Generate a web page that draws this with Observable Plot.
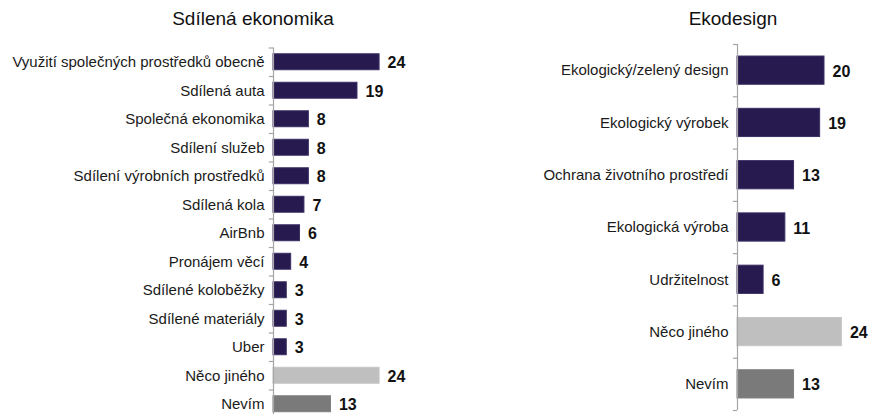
<!DOCTYPE html>
<html>
<head>
<meta charset="utf-8">
<script src="https://cdn.jsdelivr.net/npm/d3@7"></script>
<script src="https://cdn.jsdelivr.net/npm/@observablehq/plot@0.6"></script>
<style>
  html, body { margin: 0; padding: 0; background: #fff; overflow: hidden; }
  #wrap { position: relative; width: 870px; height: 414px; font-family: "Liberation Sans", Arial, sans-serif; }
  .title { position: absolute; font-size: 19px; color: #111; top: 8px; white-space: nowrap; transform: translateX(-50%); }
  .panel { position: absolute; top: 0; }
  .panel svg { display: block; }
</style>
</head>
<body>
<div id="wrap">
  <div class="title" style="left:253px">Sdílená ekonomika</div>
  <div class="title" style="left:733px">Ekodesign</div>
  <div class="panel" id="left" style="left:0px"></div>
  <div class="panel" id="right" style="left:435px"></div>
</div>
<script>
const sharingCategories = [
  "Využití společných prostředků obecně",
  "Sdílená auta",
  "Společná ekonomika",
  "Sdílení služeb",
  "Sdílení výrobních prostředků",
  "Sdílená kola",
  "AirBnb",
  "Pronájem věcí",
  "Sdílené koloběžky",
  "Sdílené materiály",
  "Uber",
  "Něco jiného",
  "Nevím"
];
const sharingValues = [24, 19, 8, 8, 8, 7, 6, 4, 3, 3, 3, 24, 13];
const sharingGroups = ["main","main","main","main","main","main","main","main","main","main","main","other","dontknow"];

const ecoCategories = [
  "Ekologický/zelený design",
  "Ekologický výrobek",
  "Ochrana životního prostředí",
  "Ekologická výroba",
  "Udržitelnost",
  "Něco jiného",
  "Nevím"
];
const ecoValues = [20, 19, 13, 11, 6, 24, 13];
const ecoGroups = ["main","main","main","main","main","other","dontknow"];

const groupColors = {main: "#261a4e", other: "#bfbfbf", dontknow: "#7a7a7a"};
const groupStroke = {main: "#3b2f66", other: "#c6c6c6", dontknow: "#7f7f7f"};

function panel({cats, vals, groups, width, height, marginLeft, marginTop, xMax, padding, labelSize}) {
  const data = cats.map((c, i) => ({cat: c, value: vals[i], group: groups[i]}));
  const step = (height - marginTop) / cats.length;
  return Plot.plot({
    width, height,
    marginLeft, marginTop, marginBottom: 0, marginRight: width - marginLeft - xMax.px,
    style: {fontFamily: "Liberation Sans, Arial, sans-serif", overflow: "visible", background: "transparent"},
    x: {domain: [0, xMax.value], axis: null},
    y: {domain: cats, paddingInner: padding, paddingOuter: padding / 2, round: false, axis: null},
    marks: [
      Plot.barX(data, {
        y: "cat", x: "value",
        fill: d => groupColors[d.group],
        stroke: d => groupStroke[d.group],
        strokeWidth: 1
      }),
      Plot.ruleX([0], {stroke: "#a6a6a6", strokeWidth: 1.2}),
      Plot.ruleY(cats, {y: d => d, x1: -0.95, x2: 0, dy: -step / 2, stroke: "#a6a6a6", strokeWidth: 1.2}),
      Plot.ruleY([cats[cats.length - 1]], {y: d => d, x1: -0.95, x2: 0, dy: step / 2, stroke: "#a6a6a6", strokeWidth: 1.2}),
      Plot.text(data, {
        y: "cat", x: 0, text: "cat", textAnchor: "end", dx: -9,
        fontSize: labelSize, fill: "#1a1a1a"
      }),
      Plot.text(data, {
        y: "cat", x: "value", text: d => String(d.value), textAnchor: "start", dx: 8, dy: 1,
        fontSize: 16, fontWeight: "bold", fill: "#111"
      })
    ]
  });
}

document.getElementById("left").appendChild(panel({
  cats: sharingCategories, vals: sharingValues, groups: sharingGroups,
  width: 435, height: 418, marginLeft: 273, marginTop: 47.5,
  xMax: {value: 36, px: 36 * 4.42}, padding: 0.44, labelSize: 15
}));
document.getElementById("right").appendChild(panel({
  cats: ecoCategories, vals: ecoValues, groups: ecoGroups,
  width: 435, height: 410, marginLeft: 302, marginTop: 44,
  xMax: {value: 30, px: 30 * 4.35}, padding: 0.46, labelSize: 15
}));
</script>
</body>
</html>
